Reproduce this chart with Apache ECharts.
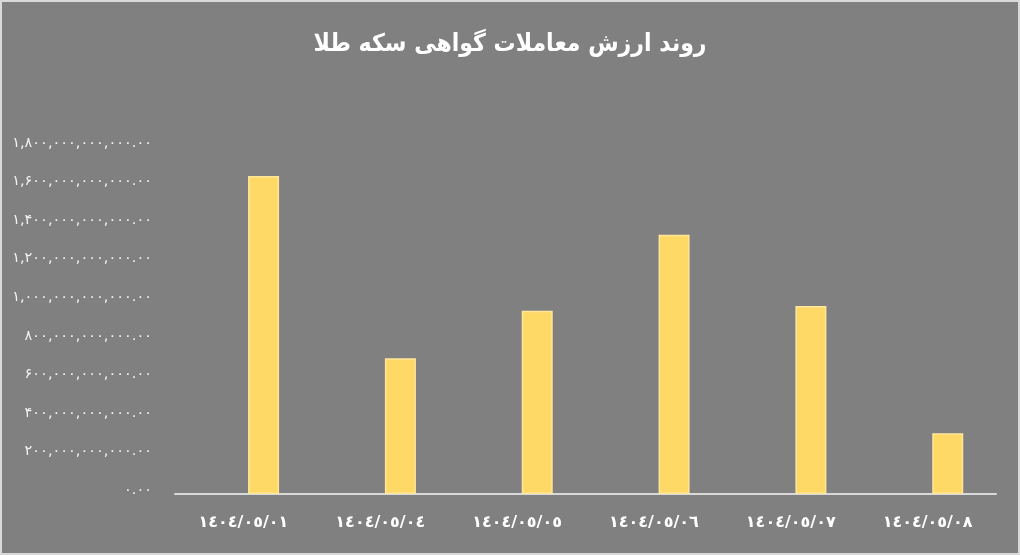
<!DOCTYPE html>
<html><head><meta charset="utf-8">
<script src="https://cdn.jsdelivr.net/npm/echarts@6/dist/echarts.min.js"></script>
<style>
html,body{margin:0;padding:0;background:#d9d9d9;}
#c{position:absolute;left:2px;top:2px;width:1016px;height:551px;background:#808080;}
</style></head>
<body><div id="c"></div>
<script>
const categories = ['١٤٠٤/٠٥/٠١','١٤٠٤/٠٥/٠٤','١٤٠٤/٠٥/٠٥','١٤٠٤/٠٥/٠٦','١٤٠٤/٠٥/٠٧','١٤٠٤/٠٥/٠٨'];
const values = [1650e9, 704e9, 951e9, 1345e9, 975e9, 315e9];
const emptySeries = [null, null, null, null, null, null];
const yTickLabels = ['۰.۰۰','۲۰۰,۰۰۰,۰۰۰,۰۰۰.۰۰','۴۰۰,۰۰۰,۰۰۰,۰۰۰.۰۰','۶۰۰,۰۰۰,۰۰۰,۰۰۰.۰۰','۸۰۰,۰۰۰,۰۰۰,۰۰۰.۰۰','۱,۰۰۰,۰۰۰,۰۰۰,۰۰۰.۰۰','۱,۲۰۰,۰۰۰,۰۰۰,۰۰۰.۰۰','۱,۴۰۰,۰۰۰,۰۰۰,۰۰۰.۰۰','۱,۶۰۰,۰۰۰,۰۰۰,۰۰۰.۰۰','۱,۸۰۰,۰۰۰,۰۰۰,۰۰۰.۰۰'];
const titleText = 'روند ارزش معاملات گواهی سکه طلا';
const step = 200e9;

const chart = echarts.init(document.getElementById('c'));
chart.setOption({
  backgroundColor: '#808080',
  animation: false,
  title: {
    text: titleText, left: 'center', top: 25,
    textStyle: {color: '#ffffff', fontSize: 24.5, fontWeight: 'bold', fontFamily: 'DejaVu Sans Condensed'}
  },
  grid: {left: 173, right: 22, top: 145, bottom: 59},
  xAxis: {
    type: 'category', data: categories,
    axisLine: {lineStyle: {color: '#d9d9d9', width: 2}},
    axisTick: {show: false},
    axisLabel: {color: '#ffffff', fontSize: 16, margin: 21, fontFamily: 'DejaVu Sans', fontWeight: 'bold'}
  },
  yAxis: {
    type: 'value', min: 0, max: 1800e9, interval: step,
    splitLine: {show: false},
    axisLine: {show: false},
    axisTick: {show: false},
    axisLabel: {
      color: '#f2f2f2', fontSize: 14.5, margin: 23, fontFamily: 'DejaVu Sans',
      verticalAlign: 'bottom', lineHeight: 8,
      formatter: v => yTickLabels[Math.round(v / step)]
    }
  },
  series: [
    {type: 'bar', data: emptySeries, barWidth: 31, barGap: '30%'},
    {type: 'bar', data: values, barWidth: 31, barGap: '30%',
     itemStyle: {color: '#FFD966', borderColor: '#FFE699', borderWidth: 1.5}}
  ]
});
</script></body></html>
